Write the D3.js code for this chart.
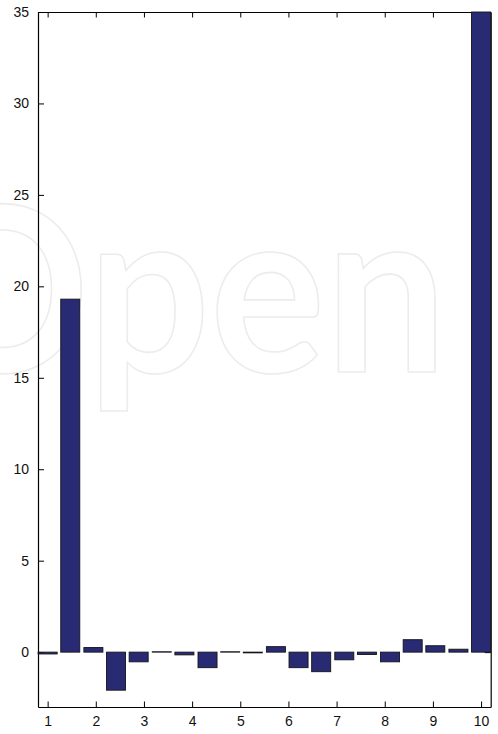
<!DOCTYPE html>
<html>
<head>
<meta charset="utf-8">
<script src="https://cdn.jsdelivr.net/npm/d3@7"></script>
<style>
  html, body { margin: 0; padding: 0; background: #fff; }
  svg { display: block; }
</style>
</head>
<body>
<svg id="chart" width="498" height="734"></svg>
<script>
// Bar centres along the x axis (20 evenly spaced samples between 1 and 10)
const xPositions = [1.00, 1.47, 1.95, 2.42, 2.89, 3.37, 3.84, 4.32, 4.79, 5.26,
                    5.74, 6.21, 6.68, 7.16, 7.63, 8.11, 8.58, 9.05, 9.53, 10.00];
// Bar heights
const values = [-0.10, 19.30, 0.25, -2.08, -0.53, 0.02, -0.15, -0.85, 0.02, -0.04,
                0.30, -0.85, -1.07, -0.42, -0.13, -0.53, 0.68, 0.35, 0.16, 35.00];
// Axis ticks
const xTicks = [1, 2, 3, 4, 5, 6, 7, 8, 9, 10];
const yTicks = [0, 5, 10, 15, 20, 25, 30, 35];

const W = 498, H = 734;
const m = { left: 38, right: 7.3, top: 12, bottom: 27 };
const svg = d3.select("#chart");

const x = d3.scaleLinear().domain([0.8, 10.2]).range([m.left, W - m.right]);
const y = d3.scaleLinear().domain([-3, 35]).range([H - m.bottom, m.top]);
const barW = 0.395; // in x units

// Faint outlined background lettering
svg.append("text")
  .attr("x", -85).attr("y", 372)
  .attr("textLength", 532).attr("lengthAdjust", "spacingAndGlyphs")
  .attr("font-family", "Lato, 'Open Sans', sans-serif")
  .attr("font-weight", 700)
  .attr("font-size", 230)
  .attr("fill", "none")
  .attr("stroke", "#ececec")
  .attr("stroke-width", 1.6)
  .text("Open");

const axisColor = "#000";
const fontFam = "'Liberation Sans', Arial, sans-serif";

// Axes (ticks pointing inward, box on all sides)
const gB = svg.append("g").attr("transform", `translate(0,${H - m.bottom})`)
  .call(d3.axisBottom(x).tickValues(xTicks).tickSizeInner(-5.5).tickSizeOuter(0).tickPadding(9));
const gT = svg.append("g").attr("transform", `translate(0,${m.top})`)
  .call(d3.axisTop(x).tickValues(xTicks).tickSizeInner(-5.5).tickSizeOuter(0).tickFormat(""));
const gL = svg.append("g").attr("transform", `translate(${m.left},0)`)
  .call(d3.axisLeft(y).tickValues(yTicks).tickSizeInner(-6).tickSizeOuter(0).tickPadding(9));
const gR = svg.append("g").attr("transform", `translate(${W - m.right},0)`)
  .call(d3.axisRight(y).tickValues(yTicks).tickSizeInner(-6).tickSizeOuter(0).tickFormat(""));

[gB, gT, gL, gR].forEach(g => {
  g.select(".domain").attr("stroke", axisColor).attr("stroke-width", 1.2);
  g.selectAll(".tick line").attr("stroke", axisColor).attr("stroke-width", 1);
  g.selectAll(".tick text").attr("fill", "#111").attr("font-family", fontFam).attr("font-size", 14);
});

// Bars
svg.append("g").selectAll("rect")
  .data(values)
  .join("rect")
  .attr("x", (d, i) => x(xPositions[i] - barW / 2))
  .attr("width", (d, i) => x(xPositions[i] + barW / 2) - x(xPositions[i] - barW / 2))
  .attr("y", d => Math.min(y(d), y(0)))
  .attr("height", d => Math.abs(y(d) - y(0)))
  .attr("fill", "#282a74")
  .attr("stroke", "#141414")
  .attr("stroke-width", 0.9);
</script>
</body>
</html>
